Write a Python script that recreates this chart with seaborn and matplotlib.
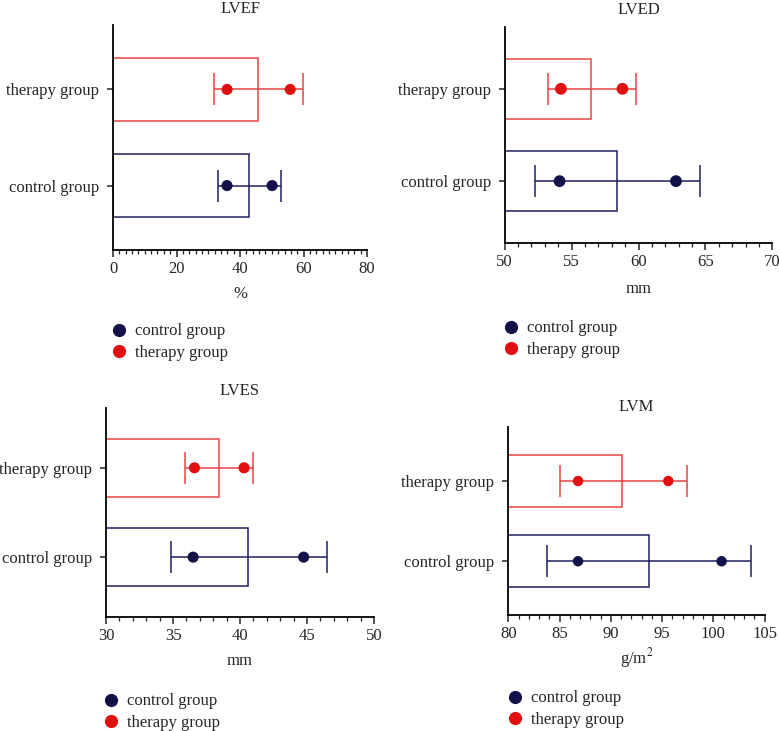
import pandas as pd
import matplotlib
matplotlib.use("Agg")
import matplotlib.pyplot as plt
from matplotlib.ticker import MultipleLocator
from matplotlib.lines import Line2D
import seaborn as sns

# groups, top to bottom
groups = ["therapy group", "control group"]

# LVEF (%)
lvef_mean = [45.7, 42.8]
lvef_low = [31.7, 33.0]
lvef_high = [59.7, 52.9]
lvef_dot_a = [35.9, 35.9]
lvef_dot_b = [55.8, 50.1]

# LVED (mm)
lved_mean = [56.45, 58.4]
lved_low = [53.2, 52.3]
lved_high = [59.8, 64.6]
lved_dot_a = [54.2, 54.1]
lved_dot_b = [58.8, 62.8]

# LVES (mm)
lves_mean = [38.4, 40.6]
lves_low = [35.9, 34.85]
lves_high = [41.0, 46.5]
lves_dot_a = [36.6, 36.5]
lves_dot_b = [40.3, 44.75]

# LVM (g/m2)
lvm_mean = [91.1, 93.7]
lvm_low = [85.0, 83.8]
lvm_high = [97.4, 103.7]
lvm_dot_a = [86.8, 86.8]
lvm_dot_b = [95.6, 100.8]

RED_LINE = "#e8443f"
RED_DOT = "#e01010"
NAVY_LINE = "#1f1f60"
NAVY_DOT = "#121249"

sns.set_style("ticks")
plt.rcParams["font.family"] = ["Liberation Serif", "DejaVu Serif"]
plt.rcParams["mathtext.fontset"] = "stix"

fig = plt.figure(figsize=(7.79, 7.31), dpi=100)

panels = [
    # title, xlabel, mean, low, high, dot a, dot b, xlim, major, minor,
    # axes rect, title pad, xlabel pad, legend anchor, dot size
    ("LVEF", "%", lvef_mean, lvef_low, lvef_high, lvef_dot_a, lvef_dot_b,
     (0, 80), 20, 2, [0.1451, 0.6580, 0.3261, 0.3078], 9, 6.5, (0.1418, 0.5575), 8),
    ("LVED", "mm", lved_mean, lved_low, lved_high, lved_dot_a, lved_dot_b,
     (50, 70), 5, 1, [0.6479, 0.6676, 0.3435, 0.2955], 9, 7.5, (0.6450, 0.5616), 8.5),
    ("LVES", "mm", lves_mean, lves_low, lves_high, lves_dot_a, lves_dot_b,
     (30, 50), 5, 1, [0.1361, 0.1560, 0.3440, 0.2859], 9, 6.5, (0.1316, 0.0515), 8),
    ("LVM", "g/m$^2$", lvm_mean, lvm_low, lvm_high, lvm_dot_a, lvm_dot_b,
     (80, 105), 5, 1, [0.6525, 0.1587, 0.3291, 0.2568], 12, 2.5, (0.6502, 0.0555), 7.5),
]

line_pal = {"therapy group": RED_LINE, "control group": NAVY_LINE}
dot_pal = {"therapy group": RED_DOT, "control group": NAVY_DOT}

for (title, xlabel, mean, low, high, dot_a, dot_b, xlim, major, minor,
     rect, tpad, lpad, leg_xy, dsize) in panels:
    ax = fig.add_axes(rect)
    bar_df = pd.DataFrame({"group": groups, "value": mean})
    dot_df = pd.DataFrame({"group": groups + groups, "value": dot_a + dot_b})

    sns.barplot(data=bar_df, x="value", y="group", hue="group", order=groups,
                palette=line_pal, fill=False, width=0.65, linewidth=1.1,
                errorbar=None, legend=False, ax=ax)

    for i, g in enumerate(groups):
        ax.errorbar(x=[low[i]], y=[i], xerr=[[0], [high[i] - low[i]]],
                    fmt="none", ecolor=line_pal[g], elinewidth=1.1,
                    capsize=11.5, capthick=1.1, zorder=3)

    sns.stripplot(data=dot_df, x="value", y="group", hue="group", order=groups,
                  palette=dot_pal, jitter=False, size=dsize, linewidth=0,
                  legend=False, ax=ax, zorder=4)

    ax.set_xlim(*xlim)
    ax.set_ylim(1.67, -0.67)
    ax.xaxis.set_major_locator(MultipleLocator(major))
    ax.xaxis.set_minor_locator(MultipleLocator(minor))
    ax.tick_params(axis="x", which="major", length=5, width=1.1, labelsize=12, pad=3)
    ax.tick_params(axis="x", which="minor", length=3, width=0.9)
    ax.tick_params(axis="y", length=4, width=1.1, labelsize=12, pad=6)
    for s in ["left", "bottom"]:
        ax.spines[s].set_linewidth(1.3)
        ax.spines[s].set_color("black")
    sns.despine(ax=ax)
    ax.set_ylabel("")
    ax.set_xlabel(xlabel, fontsize=12, labelpad=lpad)
    ax.set_title(title, fontsize=12, pad=tpad)

    handles = [
        Line2D([], [], marker="o", linestyle="none", markersize=9.5,
               markerfacecolor=NAVY_DOT, markeredgewidth=0, label="control group"),
        Line2D([], [], marker="o", linestyle="none", markersize=9.5,
               markerfacecolor=RED_DOT, markeredgewidth=0, label="therapy group"),
    ]
    ax.legend(handles=handles, loc="upper left", bbox_to_anchor=leg_xy,
              bbox_transform=fig.transFigure, frameon=False, fontsize=12,
              borderpad=0, borderaxespad=0, handlelength=1.0,
              handletextpad=0.45, labelspacing=0.35)

fig.savefig("out.png", dpi=100)
